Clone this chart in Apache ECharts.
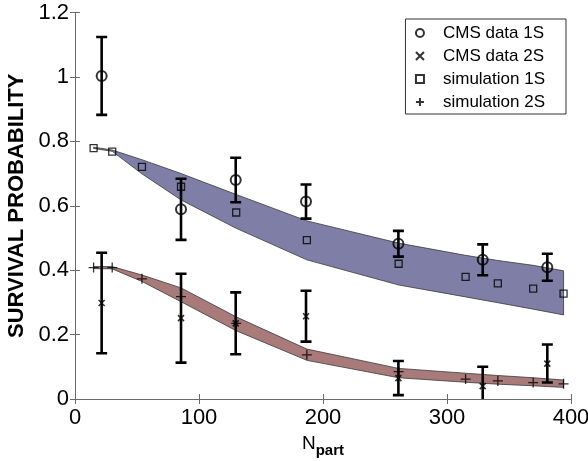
<!DOCTYPE html>
<html>
<head>
<meta charset="utf-8">
<script src="https://cdn.jsdelivr.net/npm/echarts@6/dist/echarts.min.js"></script>
<style>html,body{margin:0;padding:0;background:#fff}#c{width:588px;height:461px}</style>
</head>
<body>
<div id="c"></div>
<script>
// ---- data ----
const xSim = [15, 30, 54, 85.5, 130, 187, 261, 315, 341, 369.5, 394];
const sim1S = [0.779, 0.768, 0.721, 0.659, 0.579, 0.493, 0.420, 0.379, 0.359, 0.343, 0.327];
const sim2S = [0.408, 0.408, 0.373, 0.318, 0.235, 0.137, 0.085, 0.062, 0.056, 0.051, 0.047];
const band1Upper = [0.782, 0.773, 0.743, 0.700, 0.635, 0.553, 0.484, 0.446, 0.430, 0.415, 0.398];
const band1Lower = [0.778, 0.769, 0.699, 0.618, 0.530, 0.432, 0.354, 0.317, 0.299, 0.279, 0.261];
const band2Upper = [0.411, 0.411, 0.385, 0.345, 0.255, 0.155, 0.095, 0.080, 0.073, 0.066, 0.059];
const band2Lower = [0.405, 0.404, 0.365, 0.302, 0.212, 0.120, 0.066, 0.052, 0.046, 0.041, 0.036];

const xCms = [21.5, 85.5, 129.6, 186.3, 260.8, 328.8, 380.9];
const cms1S = [1.003, 0.589, 0.680, 0.613, 0.482, 0.432, 0.409];
const cms1SErr = [0.121, 0.095, 0.069, 0.053, 0.040, 0.048, 0.042];
const cms2S = [0.298, 0.251, 0.235, 0.257, 0.065, 0.040, 0.110];
const cms2SErr = [0.156, 0.138, 0.096, 0.079, 0.053, 0.060, 0.059];

const xTicks = [0, 100, 200, 300, 400];
const yTicks = [0, 0.2, 0.4, 0.6, 0.8, 1, 1.2];

// ---- build ----
const FONT = 'Liberation Sans';
const chart = echarts.init(document.getElementById('c'), null, {renderer: 'canvas'});

function bandSeries(upper, lower, fill) {
  return {
    type: 'custom', silent: true, z: 1,
    data: [[0]],
    renderItem: function (params, api) {
      const pts = [];
      for (let i = 0; i < xSim.length; i++) pts.push(api.coord([xSim[i], upper[i]]));
      for (let i = xSim.length - 1; i >= 0; i--) pts.push(api.coord([xSim[i], lower[i]]));
      return {type: 'polygon', shape: {points: pts},
        style: {fill: fill, stroke: '#3a3a3a', lineWidth: 0.8}};
    }
  };
}

function errSeries(xs, ys, es) {
  return {
    type: 'custom', silent: true, z: 3, clip: true,
    data: xs.map((x, i) => [x, ys[i] - es[i], ys[i] + es[i]]),
    encode: {x: 0, y: [1, 2]},
    renderItem: function (params, api) {
      const lo = api.coord([api.value(0), api.value(1)]);
      const hi = api.coord([api.value(0), api.value(2)]);
      const hw = 5.5;
      const st = {stroke: '#000', lineWidth: 2.6};
      return {type: 'group', children: [
        {type: 'line', shape: {x1: lo[0], y1: lo[1], x2: hi[0], y2: hi[1]}, style: st},
        {type: 'line', shape: {x1: lo[0] - hw, y1: lo[1], x2: lo[0] + hw, y2: lo[1]}, style: st},
        {type: 'line', shape: {x1: hi[0] - hw, y1: hi[1], x2: hi[0] + hw, y2: hi[1]}, style: st}
      ]};
    }
  };
}

const CROSS = 'path://M0,0L10,10M0,10L10,0';
const PLUS = 'path://M5,0L5,10M0,5L10,5';
const SQUARE = 'path://M0,0L10,0L10,10L0,10Z';

const axisLine = {show: true, lineStyle: {color: '#6a6a6a', width: 1}};
const axisTick = {show: true, inside: true, length: 5, lineStyle: {color: '#6a6a6a'}};

const option = {
  animation: false,
  backgroundColor: '#fff',
  grid: {left: 75, right: 17, top: 12.5, bottom: 62, containLabel: false, outerBoundsMode: 'none'},
  xAxis: [
    {type: 'value', min: 0, max: 400, interval: 100, position: 'bottom',
     axisLine: axisLine, axisTick: axisTick, splitLine: {show: false},
     axisLabel: {fontFamily: FONT, fontSize: 22, color: '#000', margin: 8,
       formatter: v => xTicks.includes(v) ? String(v) : ''},
     name: '{n|N}{p|part}', nameLocation: 'middle', nameGap: 32,
     nameTextStyle: {rich: {
       n: {fontFamily: FONT, fontSize: 19, color: '#000', lineHeight: 24, verticalAlign: 'top'},
       p: {fontFamily: FONT, fontSize: 15, fontWeight: 'bold', color: '#000', lineHeight: 24, verticalAlign: 'bottom'}
     }}},
    {type: 'value', min: 0, max: 400, interval: 100, position: 'top',
     axisLine: axisLine, axisTick: axisTick, splitLine: {show: false}, axisLabel: {show: false}}
  ],
  yAxis: [
    {type: 'value', min: 0, max: 1.2, interval: 0.2, position: 'left',
     axisLine: axisLine, axisTick: axisTick, splitLine: {show: false},
     axisLabel: {fontFamily: FONT, fontSize: 22, color: '#000', margin: 6,
       formatter: v => { const t = yTicks.find(k => Math.abs(k - v) < 1e-9); return t === undefined ? '' : String(t); }},
     name: 'SURVIVAL PROBABILITY', nameLocation: 'middle', nameGap: 42,
     nameTextStyle: {fontFamily: FONT, fontSize: 22, fontWeight: 'bold', color: '#000'}},
    {type: 'value', min: 0, max: 1.2, interval: 0.2, position: 'right',
     axisLine: axisLine, axisTick: axisTick, splitLine: {show: false}, axisLabel: {show: false}}
  ],
  legend: {
    orient: 'vertical', right: 22, top: 19,
    data: ['CMS data 1S', 'CMS data 2S', 'simulation 1S', 'simulation 2S'],
    backgroundColor: '#fff', borderColor: '#333', borderWidth: 1, borderRadius: 0,
    padding: [4, 21, 2, 8], itemGap: 3, itemWidth: 36, itemHeight: 8,
    textStyle: {fontFamily: FONT, fontSize: 17, color: '#000', lineHeight: 20},
    selectedMode: false
  },
  series: [
    bandSeries(band1Upper, band1Lower, '#7e7ea6'),
    bandSeries(band2Upper, band2Lower, '#a87a7a'),
    errSeries(xCms, cms1S, cms1SErr),
    errSeries(xCms, cms2S, cms2SErr),
    {name: 'CMS data 1S', type: 'scatter', z: 5, symbol: 'circle', symbolSize: 10,
     itemStyle: {color: 'none', borderColor: '#000', borderWidth: 2},
     data: xCms.map((x, i) => [x, cms1S[i]])},
    {name: 'CMS data 2S', type: 'scatter', z: 5, symbol: CROSS, symbolSize: 6,
     itemStyle: {color: 'none', borderColor: '#000', borderWidth: 1.6},
     data: xCms.map((x, i) => [x, cms2S[i]])},
    {name: 'simulation 1S', type: 'scatter', z: 5, symbol: SQUARE, symbolSize: 7,
     itemStyle: {color: 'none', borderColor: '#000', borderWidth: 1.3},
     data: xSim.map((x, i) => [x, sim1S[i]])},
    {name: 'simulation 2S', type: 'scatter', z: 5, symbol: PLUS, symbolSize: 10,
     itemStyle: {color: 'none', borderColor: '#000', borderWidth: 1.3},
     data: xSim.map((x, i) => [x, sim2S[i]])}
  ]
};
chart.setOption(option);
</script>
</body>
</html>
